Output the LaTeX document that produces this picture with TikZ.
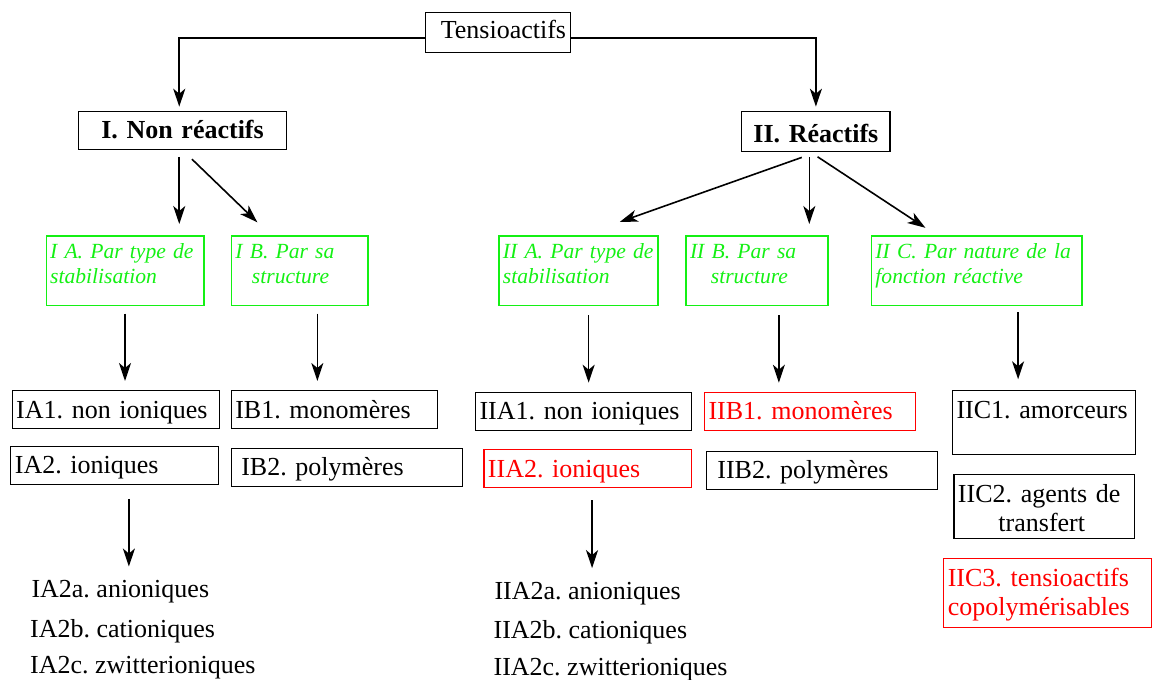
\documentclass[tikz,border=0pt]{standalone}
\usepackage{fontspec}
\setmainfont{Liberation Serif}
\usetikzlibrary{arrows.meta,calc}
\definecolor{tgreen}{RGB}{20,240,20}
\definecolor{tred}{RGB}{255,0,0}
\frenchspacing

\begin{document}
\begin{tikzpicture}[
        x=1pt, y=-1pt,
        box/.style={draw, line width=1.1pt, anchor=north west, inner xsep=4pt,
            inner ysep=0pt, align=left, font=\fontsize{26}{29.3}\selectfont},
        title/.style={box, align=center, font=\fontsize{26}{29.3}\selectfont\bfseries},
        gbox/.style={box, draw=tgreen, line width=1.3pt, text=tgreen,
            font=\fontsize{21.6}{25}\selectfont\itshape},
        rbox/.style={box, draw=tred, text=tred},
        dims/.style n args={3}{text width=#1, text height=#2, text depth=#3},
        item/.style={anchor=base west, inner sep=0pt, text height=18pt,
            font=\fontsize{26}{29.3}\selectfont},
        arr/.style={-{Stealth[length=18pt,width=12pt,inset=5pt]}, line width=1.6pt},
    ]
    \useasboundingbox (0,0) rectangle (1152,680);

    % top levels
    \node[box, align=right, dims={136.7pt}{26.6pt}{13.4pt}] (tens) at (424.8,11.7) {Tensioactifs};
    \node[title, dims={200.6pt}{27.6pt}{10.7pt}] (nr) at (77.7,110.7) {I. Non réactifs};
    \node[title, dims={140.1pt}{31pt}{9.6pt}] (r) at (741.3,110.7) {II. Réactifs};

    % classes
    \node[gbox, dims={149.7pt}{23pt}{46.4pt}] (ia) at (45.5,235.3) {\mbox{I A. Par type de}\\stabilisation};
    \node[gbox, dims={128.6pt}{23pt}{46.4pt}] (ib) at (230.8,235.3) {\mbox{I B. Par sa}\\\hspace*{16.5pt}structure};
    \node[gbox, dims={151pt}{23pt}{46.4pt}] (iia) at (498.3,235.3) {\mbox{II A. Par type de}\\stabilisation};
    \node[gbox, dims={134pt}{23pt}{46.4pt}] (iib) at (685.4,235.3) {\mbox{II B. Par sa}\\\hspace*{20.8pt}structure};
    \node[gbox, dims={202.5pt}{23pt}{46.4pt}] (iic) at (870.8,235.3) {\mbox{II C. Par nature de la}\\\mbox{fonction réactive}};

    % sub classes
    \node[box, dims={199.6pt}{28pt}{10.3pt}] (ia1) at (11.7,390) {IA1. non ioniques};
    \node[box, dims={199.7pt}{27.3pt}{11pt}] (ia2) at (10.3,445.7) {IA2. ioniques};
    \node[box, dims={198.6pt}{28pt}{10.3pt}] (ib1) at (230.7,390) {IB1. monomères};
    \node[box, dims={223.6pt}{27.3pt}{11pt}] (ib2) at (230.7,447.7) {\hspace*{6pt}IB2. polymères};
    \node[box, dims={208.2pt}{27pt}{11.3pt}] (iia1) at (475,391.7) {IIA1. non ioniques};
    \node[rbox, dims={199.8pt}{27.4pt}{10.6pt}] (iia2) at (483.4,449.3) {IIA2. ioniques};
    \node[rbox, dims={203pt}{27pt}{11.3pt}] (iib1) at (704,391.7) {IIB1. monomères};
    \node[box, dims={223.2pt}{27.3pt}{11pt}] (iib2) at (705.8,451) {\hspace*{7pt}IIB2. polymères};
    \node[box, dims={175.2pt}{28pt}{36pt}] (iic1) at (952,390) {\mbox{IIC1. amorceurs}};
    \node[box, dims={172.5pt}{27.7pt}{36.6pt}] (iic2) at (953.4,474) {\mbox{IIC2. agents de}\\\hspace*{40.5pt}transfert};
    \node[rbox, dims={199.4pt}{27.4pt}{41.6pt}] (iic3) at (943.2,558.3) {\mbox{IIC3. tensioactifs}\\copolymérisables};

    \node[item] (ia2a) at (31.3,597.7) {IA2a. anioniques};
    \node[item] (ia2b) at (30,637.3) {IA2b. cationiques};
    \node[item] (ia2c) at (30,673.3) {IA2c. zwitterioniques};
    \node[item] (iia2a) at (494.3,599) {IIA2a. anioniques};
    \node[item] (iia2b) at (493.4,638.3) {IIA2b. cationiques};
    \node[item] (iia2c) at (493.4,675) {IIA2c. zwitterioniques};

    % connectors
    \draw[arr, shorten >=4pt] ([yshift=-6pt]tens.west) -| ([xshift=-3.3pt]nr.north);
    \draw[arr, shorten >=4pt] ([yshift=-6pt]tens.east) -| (r.north);

    \draw[arr, shorten <=6.7pt, shorten >=11.3pt] ([xshift=-3.3pt]nr.south) -- ([xshift=-3.3pt]nr.south |- ia.north);
    \draw[arr, shorten <=13pt, shorten >=18.7pt] (nr.south) -- ([xshift=40pt]ib.north west);
    \draw[arr, shorten <=15pt, shorten >=40pt] (r.south) -- ([xshift=3.6pt]iia.north);
    \draw[arr, shorten <=4.4pt, shorten >=11.3pt] ([xshift=-6.6pt]r.south) -- ([xshift=-6.6pt]r.south |- iib.north);
    \draw[arr, shorten <=8pt, shorten >=13.6pt] ([xshift=-5pt]r.south) -- ([xshift=66pt]iic.north west);

    \draw[arr, shorten <=7.6pt, shorten >=9pt] (ia.south) -- (ia.south |- ia1.north);
    \draw[arr, shorten <=7.6pt, shorten >=9pt] ([xshift=17.6pt]ib.south) -- ([xshift=17.6pt]ib.south |- ib1.north);
    \draw[arr, shorten <=9.3pt, shorten >=9pt] ([xshift=10.2pt]iia.south) -- ([xshift=10.2pt]iia.south |- iia1.north);
    \draw[arr, shorten <=9.3pt, shorten >=9pt] ([xshift=21.8pt]iib.south) -- ([xshift=21.8pt]iib.south |- iib1.north);
    \draw[arr, shorten <=6pt, shorten >=10.7pt] ([xshift=41.4pt]iic.south) -- ([xshift=41.4pt]iic.south |- iic1.north);

    \draw[arr, shorten <=13.7pt, shorten >=13pt] ([xshift=14.2pt]ia2.south) -- ([xshift=14.2pt]ia2.south |- ia2a.north);
    \draw[arr, shorten <=12pt, shorten >=12.7pt] ([xshift=4.2pt]iia2.south) -- ([xshift=4.2pt]iia2.south |- iia2a.north);
\end{tikzpicture}
\end{document}
